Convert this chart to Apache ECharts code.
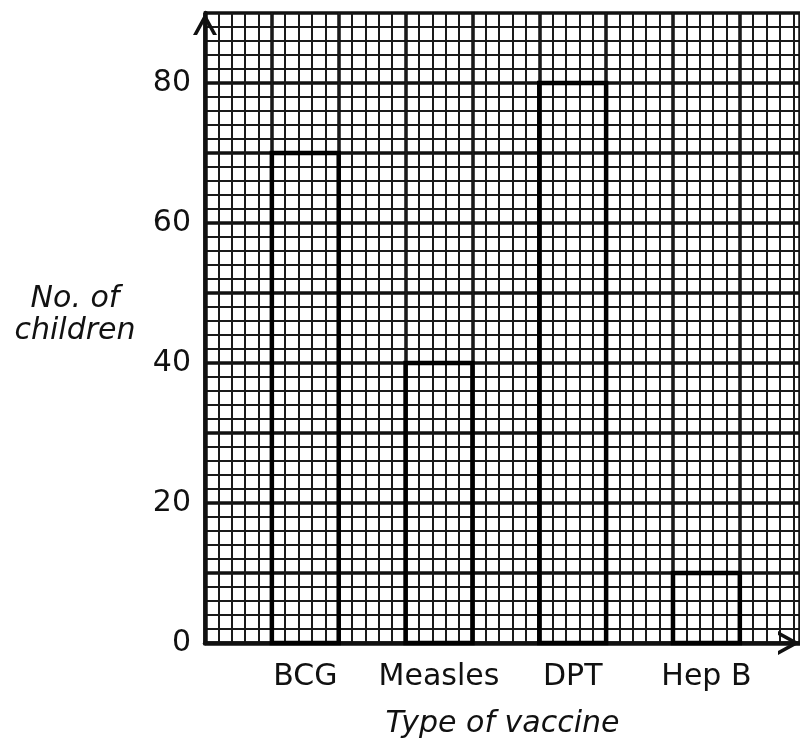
<!DOCTYPE html>
<html>
<head>
<meta charset="utf-8">
<script src="https://cdn.jsdelivr.net/npm/echarts@6/dist/echarts.min.js"></script>
<style>
html,body{margin:0;padding:0;background:#fff;}
#chart{width:800px;height:742px;}
</style>
</head>
<body>
<div id="chart"></div>
<script>
// Data
var categories = ['BCG', 'Measles', 'DPT', 'Hep B'];
var children = [70, 40, 80, 10];
var yTickLabels = [0, 20, 40, 60, 80];
var xTitle = 'Type of vaccine';
var yTitleLines = ['No. of', 'children'];

var FONT = 'DejaVu Sans';
var INK = '#111';
var xMax = 8.9;      // graph-paper columns visible
var yMax = 90;

// each vaccine occupies one graph-paper column, with an empty column between
var barData = categories.map(function (c, i) { return [2 * i + 1, children[i], c]; });
var labelPositions = categories.map(function (c, i) { return 2 * i + 1.5; });

var chevron = 'path://M0,22 L12,0 L24,22 L20,22 L12,7.5 L4,22 Z';

var chart = echarts.init(document.getElementById('chart'), null, {renderer: 'canvas'});
chart.setOption({
  backgroundColor: '#fff',
  animation: false,
  title: {
    text: yTitleLines.map(function (s) { return '{a|' + s + '}'; }).join('\n'),
    left: 13, top: 283, padding: 0,
    textStyle: {
      fontWeight: 'normal',
      rich: {a: {fontFamily: FONT, fontSize: 30, fontStyle: 'italic', fontWeight: 'normal', color: INK,
        width: 124, align: 'center', lineHeight: 32}}
    }
  },
  grid: {left: 205, right: 0, top: 13, bottom: 99, outerBoundsMode: 'none', containLabel: false},
  xAxis: [{
    type: 'value', min: 0, max: xMax, interval: 1,
    name: xTitle, nameLocation: 'middle', nameGap: 66,
    nameTextStyle: {fontFamily: FONT, fontSize: 30, fontStyle: 'italic', color: INK},
    axisLine: {show: true, onZero: false, lineStyle: {color: INK, width: 4.5},
      symbol: ['none', chevron], symbolSize: [24, 22], symbolOffset: [0, -11]},
    axisTick: {show: false},
    axisLabel: {
      customValues: labelPositions, margin: 19,
      fontFamily: FONT, fontSize: 30, color: INK,
      formatter: function (v) { return categories[Math.round((v - 1.5) / 2)] || ''; }
    },
    splitLine: {show: true, lineStyle: {color: INK, width: 3.5}}
  }, {
    type: 'value', min: 0, max: xMax, interval: 0.2,
    axisLine: {show: false}, axisTick: {show: false}, axisLabel: {show: false},
    splitLine: {show: true, lineStyle: {color: '#1a1a1a', width: 2}}
  }],
  yAxis: {
    type: 'value', min: 0, max: yMax, interval: 10,
    axisLine: {show: true, onZero: false, lineStyle: {color: INK, width: 4.5},
      symbol: ['none', chevron], symbolSize: [24, 22], symbolOffset: [0, -11]},
    axisTick: {show: false},
    axisLabel: {
      margin: 14, fontFamily: FONT, fontSize: 30, color: INK,
      formatter: function (v) { return yTickLabels.indexOf(v) >= 0 ? String(v) : ''; }
    },
    splitLine: {show: true, lineStyle: {color: INK, width: 3.5}},
    minorTick: {show: false, splitNumber: 5},
    minorSplitLine: {show: true, lineStyle: {color: '#1a1a1a', width: 2}}
  },
  series: [{
    type: 'custom',
    xAxisIndex: 0, yAxisIndex: 0,
    data: barData,
    z: 10,
    renderItem: function (params, api) {
      var p0 = api.coord([api.value(0), 0]);
      var p1 = api.coord([api.value(0) + 1, api.value(1)]);
      return {
        type: 'rect',
        shape: {x: p0[0], y: p1[1], width: p1[0] - p0[0], height: p0[1] - p1[1]},
        style: {fill: 'none', stroke: '#000', lineWidth: 4.5}
      };
    }
  }]
});
</script>
</body>
</html>
